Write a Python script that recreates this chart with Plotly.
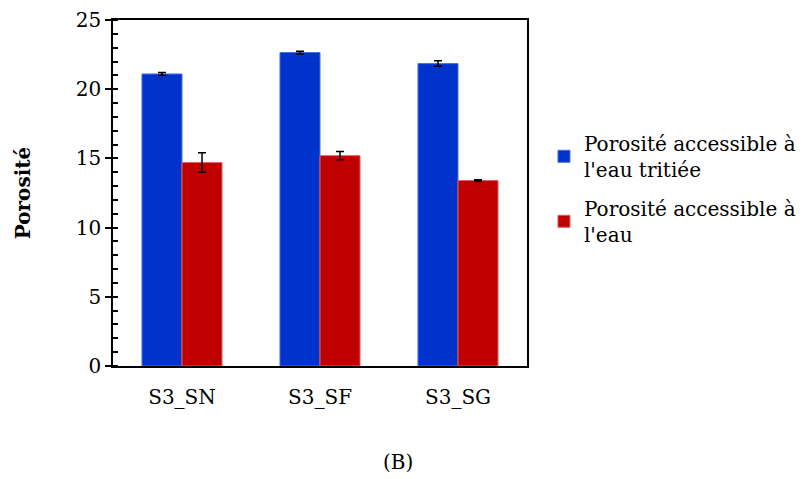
import plotly.graph_objects as go

# données
echantillons = ['S3_SN', 'S3_SF', 'S3_SG']
poro_tritiee = [21.1, 22.65, 21.85]
err_tritiee = [0.1, 0.1, 0.2]
poro_eau = [14.7, 15.2, 13.4]
err_eau = [0.7, 0.3, 0.05]

police = "DejaVu Serif"

fig = go.Figure()
fig.add_trace(go.Bar(x=echantillons, y=poro_tritiee, name="Porosité accessible à<br>l'eau tritiée",
                     legendgroup='a',
                     marker=dict(color='#0033CC', line=dict(color='#4a6fe0', width=1)),
                     error_y=dict(type='data', array=err_tritiee, color='black', thickness=1.5, width=4)))
fig.add_trace(go.Bar(x=echantillons, y=poro_eau, name="Porosité accessible à<br>l'eau",
                     legendgroup='b',
                     marker=dict(color='#C00000', line=dict(color='#e06060', width=1)),
                     error_y=dict(type='data', array=err_eau, color='black', thickness=1.5, width=4)))

# la page html ajoute une marge de 8 px autour du graphique
fig.update_layout(
    width=803, height=471,
    barmode='group', bargap=0.42, bargroupgap=0,
    plot_bgcolor='white', paper_bgcolor='white',
    font=dict(family=police, size=20, color='black'),
    margin=dict(l=105, r=284, t=12, b=113, autoexpand=False),
    legend=dict(x=1.041, y=0.70, xanchor='left', yanchor='top', font=dict(size=20),
                tracegroupgap=10, itemwidth=30, bgcolor='rgba(0,0,0,0)'),
    annotations=[dict(text='(B)', x=0.688, y=-0.277, xref='paper', yref='paper', xanchor='center',
                      yanchor='middle', showarrow=False, font=dict(size=20))],
)
fig.update_xaxes(showline=True, linecolor='black', linewidth=1.5, mirror=True, ticks='',
                 ticklabelstandoff=12, tickfont=dict(size=20))
fig.update_yaxes(range=[0, 25], dtick=5, showline=True, linecolor='black', linewidth=1.5, mirror=True,
                 ticks='outside', ticklen=6, tickwidth=1.5, tickcolor='black', showgrid=False, zeroline=False,
                 minor=dict(dtick=1, ticks='inside', ticklen=5, tickwidth=1.5, tickcolor='black'),
                 title=dict(text='<b>Porosité</b>', font=dict(size=20), standoff=40),
                 tickfont=dict(size=20))

fig.write_html("out.html")
